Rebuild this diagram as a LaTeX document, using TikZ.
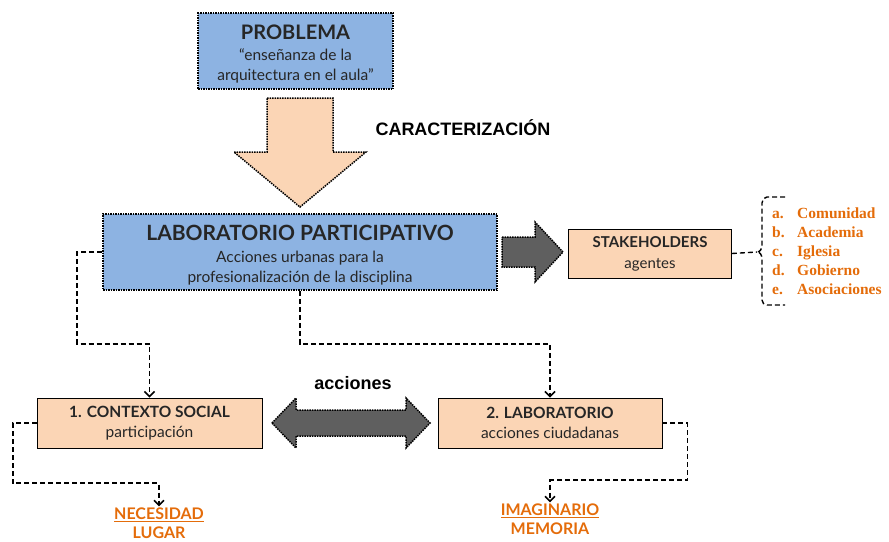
\documentclass[tikz,border=0pt]{standalone}
\usepackage{fontspec}
\setmainfont{Lato}
\newfontfamily\arialfont{Liberation Sans}
\newfontfamily\listfont{Liberation Serif}
\usetikzlibrary{arrows.meta}
\definecolor{blueF}{RGB}{141,179,226}
\definecolor{peachF}{RGB}{251,213,181}
\definecolor{greyF}{RGB}{95,95,95}
\definecolor{orangeT}{RGB}{228,108,10}

\begin{document}
\begin{tikzpicture}[x=1pt, y=-1pt]
\tikzset{bluebox/.style={draw, densely dotted, line width=1.5pt, fill=blueF, align=center, inner sep=0pt, text=black!85},
  peachbox/.style={draw, line width=0.8pt, fill=peachF, align=center, inner sep=0pt, text=black!85},
  blockarrow/.style={draw, densely dotted, line width=1.5pt},
  dashline/.style={dash pattern=on 5pt off 3pt, line width=1.8pt},
  dasharrow/.style={dashline, -{Straight Barb[length=5pt, width=10pt, line width=1.6pt]}},
  orangetxt/.style={text=orangeT, font=\fontsize{16}{19}\selectfont\bfseries, align=center, inner sep=1pt},
  listtxt/.style={text=orangeT, font=\listfont\fontsize{15.5}{16}\selectfont\bfseries, anchor=base west, inner sep=0pt},
  boldlabel/.style={font=\arialfont\fontsize{18}{20}\selectfont\bfseries}}
\useasboundingbox (0,0) rectangle (889,541);
% boxes
\node[bluebox, minimum width=195, minimum height=76, font=\fontsize{15.5}{20}\selectfont] (prob) at (295.5,51)
  {\rule{0pt}{21pt}{\fontsize{20}{22}\selectfont\bfseries PROBLEMA}\\[1pt]
   “enseñanza de la\\arquitectura en el aula”};
\node[bluebox, minimum width=394, minimum height=76, font=\fontsize{15.5}{20}\selectfont] (lab) at (300,252)
  {\rule{0pt}{21pt}{\fontsize{21}{22}\selectfont\bfseries LABORATORIO PARTICIPATIVO}\\[2pt]
   Acciones urbanas para la\\profesionalización de la disciplina};
\node[peachbox, minimum width=163, minimum height=49, font=\fontsize{15}{21}\selectfont] (stake) at (650,253.5)
  {{\bfseries STAKEHOLDERS}\\agentes};
\node[peachbox, minimum width=225, minimum height=50, font=\fontsize{15.5}{20}\selectfont] (ctx) at (149.5,423)
  {{\bfseries 1. CONTEXTO SOCIAL}\\participación};
\node[peachbox, minimum width=224, minimum height=50, font=\fontsize{15.5}{20}\selectfont] (lab2) at (550,423)
  {{\bfseries 2. LABORATORIO}\\acciones ciudadanas};
\node[orangetxt] (nec) at (159,523) {\underline{NECESIDAD}\\LUGAR};
\node[orangetxt] (ima) at (550,519) {\underline{IMAGINARIO}\\MEMORIA};
% block arrows
\draw[blockarrow, fill=peachF] (267,98) -- (333,98) -- (333,152) -- (366,152) -- (300,207)
  -- (234,152) -- (267,152) -- cycle;
\draw[blockarrow, fill=greyF] (502,237) -- (535,237) -- (535,222) -- (563,252) -- (535,282)
  -- (535,267) -- (502,267) -- cycle;
\draw[blockarrow, fill=greyF] (272,423) -- (296,398) -- (296,410) -- (406,410) -- (406,398)
  -- (430,423) -- (406,448) -- (406,436) -- (296,436) -- (296,448) -- cycle;
\node[boldlabel] (carac) at (463,128) {CARACTERIZACIÓN};
\node[boldlabel] (acc) at (353,383) {acciones};
% dashed connectors
\draw[dasharrow] (lab.west) -- ++(-25,0) |- ([yshift=54pt]ctx.north) -- (ctx.north);
\draw[dasharrow] (lab.south) |- ([yshift=54pt]lab2.north) -- (lab2.north);
\draw[dasharrow] (ctx.west) -- ++(-24,0) |- ([yshift=23pt]nec.north) -- (nec.north);
\draw[dasharrow] (lab2.east) -- ++(25,0) |- ([yshift=22pt]ima.north) -- (ima.north);
% stakeholders list
\coordinate (br) at (757,252);
\draw[dashline, line width=1.4pt] (stake.east) -- (br);
\draw[dashline, line width=1.4pt] (785,197) -- (767,197) to[out=180,in=90] (762,203) -- (762,245)
  to[out=270,in=0] (br) to[out=0,in=90] (762,259) -- (762,300) to[out=270,in=180] (767,305) -- (785,305);
\foreach \l/\w [count=\i] in {a./Comunidad, b./Academia, c./Iglesia, d./Gobierno, e./Asociaciones}{
  \node[listtxt] (let\i) at (772,{218+19*(\i-1)}) {\l};
  \node[listtxt] (item\i) at (797,{218+19*(\i-1)}) {\w};
}
\end{tikzpicture}
\end{document}
